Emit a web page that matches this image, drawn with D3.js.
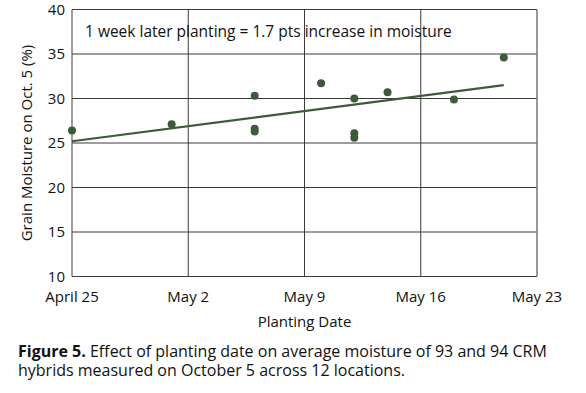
<!DOCTYPE html>
<html>
<head>
<meta charset="utf-8">
<script src="https://d3js.org/d3.v7.min.js"></script>
<style>
    body { margin: 0; background: #fff; }
    .axisText { font-family: "Open Sans", sans-serif; font-size: 15px; fill: #111; }
</style>
</head>
<body>
<svg width="586" height="393" id="mainSvg"></svg>
<script>
    // planting dates and grain moisture values (%)
    const plantDates = ["2023-04-25", "2023-05-01", "2023-05-06", "2023-05-06", "2023-05-06", "2023-05-10",
        "2023-05-12", "2023-05-12", "2023-05-12", "2023-05-14", "2023-05-18", "2023-05-21"];
    const moisture = [26.4, 27.1, 30.3, 26.6, 26.3, 31.7, 30.0, 26.1, 25.6, 30.7, 29.9, 34.6];
    const trendDates = ["2023-04-25", "2023-05-21"];
    const trendValues = [25.2, 31.5];
    const xTickDates = ["2023-04-25", "2023-05-02", "2023-05-09", "2023-05-16", "2023-05-23"];
    const xTickLabels = ["April 25", "May 2", "May 9", "May 16", "May 23"];
    const yTicks = [10, 15, 20, 25, 30, 35, 40];

    const parse = d3.timeParse("%Y-%m-%d");
    const svg = d3.select("#mainSvg");
    const margin = { top: 9.5, right: 49, bottom: 116.5, left: 72 };
    const innerWidth = 586 - margin.left - margin.right;
    const innerHeight = 393 - margin.top - margin.bottom;

    const g = svg.append("g")
        .attr("transform", `translate(${margin.left}, ${margin.top})`);

    const x = d3.scaleTime()
        .domain([parse(xTickDates[0]), parse(xTickDates[xTickDates.length - 1])])
        .range([0, innerWidth]);
    const y = d3.scaleLinear().domain([10, 40]).range([innerHeight, 0]);

    // horizontal grid
    g.selectAll(".hGrid").data(yTicks).join("line")
        .attr("class", "hGrid")
        .attr("x1", 0).attr("x2", innerWidth)
        .attr("y1", d => y(d)).attr("y2", d => y(d))
        .attr("stroke", "#3a3a3a").attr("stroke-width", 1);

    // vertical grid
    g.selectAll(".vGrid").data(xTickDates).join("line")
        .attr("class", "vGrid")
        .attr("x1", d => x(parse(d))).attr("x2", d => x(parse(d)))
        .attr("y1", 0).attr("y2", innerHeight)
        .attr("stroke", (d, i) => i === xTickDates.length - 1 ? "#777" : "#3a3a3a")
        .attr("stroke-width", (d, i) => i === xTickDates.length - 1 ? 1.5 : 1);

    // y tick labels
    g.selectAll(".yLabel").data(yTicks).join("text")
        .attr("class", "axisText yLabel")
        .attr("x", -7).attr("y", d => y(d))
        .attr("dy", "0.35em")
        .attr("text-anchor", "end")
        .text(d => d);

    // x tick labels
    g.selectAll(".xLabel").data(xTickDates).join("text")
        .attr("class", "axisText xLabel")
        .attr("x", d => x(parse(d))).attr("y", innerHeight + 20)
        .attr("dy", "0.35em")
        .attr("text-anchor", "middle")
        .text((d, i) => xTickLabels[i]);

    // axis titles
    g.append("text")
        .attr("class", "axisText")
        .attr("x", x(parse("2023-05-09"))).attr("y", innerHeight + 45)
        .attr("dy", "0.35em")
        .attr("text-anchor", "middle")
        .text("Planting Date");

    g.append("text")
        .attr("class", "axisText")
        .attr("transform", `translate(-45, ${innerHeight / 2}) rotate(-90)`)
        .attr("dy", "0.35em")
        .attr("text-anchor", "middle")
        .text("Grain Moisture on Oct. 5 (%)");

    // annotation
    g.append("text")
        .attr("class", "axisText")
        .attr("x", 13).attr("y", 22.5)
        .attr("dy", "0.35em")
        .style("font-size", "15.5px")
        .text("1 week later planting = 1.7 pts increase in moisture");

    // trend line
    const line = d3.line().x(d => x(d[0])).y(d => y(d[1]));
    g.append("path")
        .datum(trendDates.map((d, i) => [parse(d), trendValues[i]]))
        .attr("d", line)
        .attr("fill", "none")
        .attr("stroke", "#3e5b39")
        .attr("stroke-width", 2.2);

    // points
    g.selectAll(".dot").data(plantDates.map((d, i) => [parse(d), moisture[i]])).join("circle")
        .attr("class", "dot")
        .attr("cx", d => x(d[0])).attr("cy", d => y(d[1]))
        .attr("r", 4)
        .attr("fill", "#3d5a3a");

    // caption
    const cap = svg.append("text")
        .attr("font-family", "'Open Sans', sans-serif")
        .attr("font-size", "16px")
        .attr("fill", "#111");
    const l1 = cap.append("tspan").attr("x", 18).attr("y", 357);
    l1.append("tspan").attr("font-weight", "bold").text("Figure 5.");
    l1.append("tspan").text(" Effect of planting date on average moisture of 93 and 94 CRM");
    cap.append("tspan").attr("x", 18).attr("y", 376)
        .text("hybrids measured on October 5 across 12 locations.");
</script>
</body>
</html>
